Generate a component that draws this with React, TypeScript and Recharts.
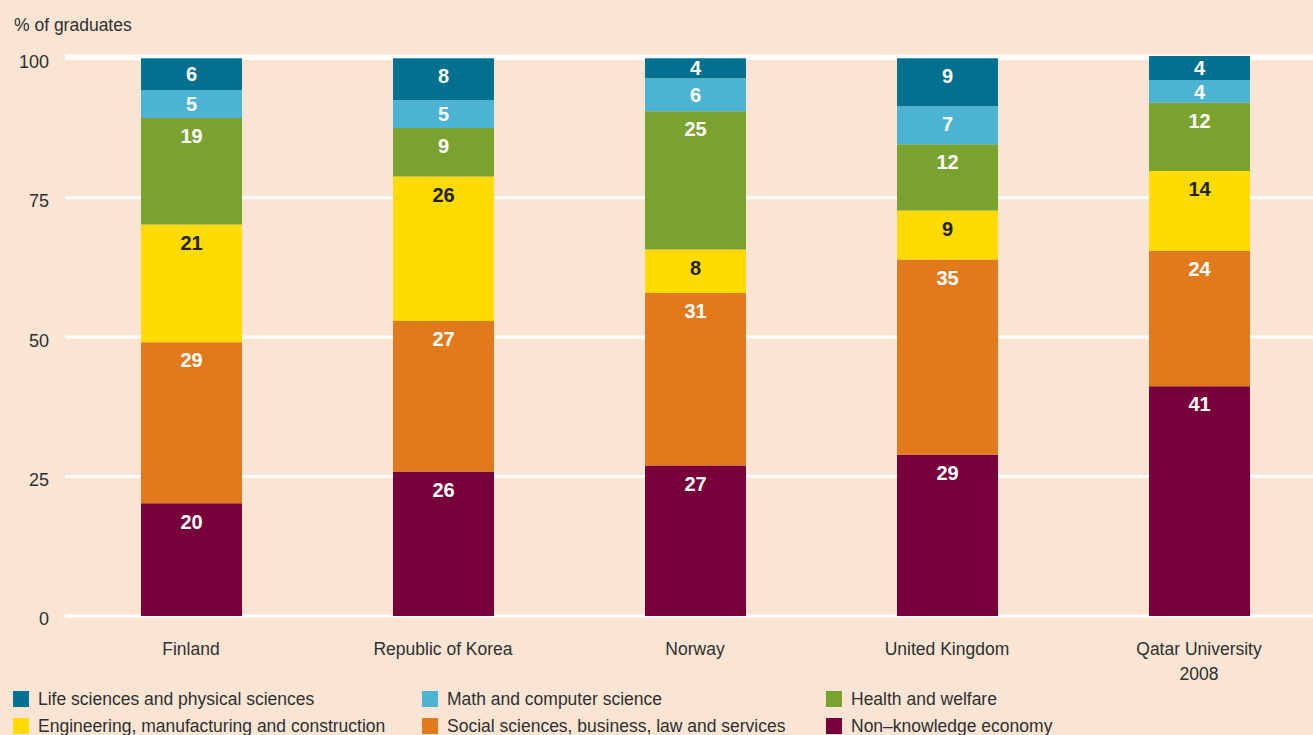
import { Bar, BarChart, CartesianGrid, LabelList, XAxis, YAxis } from "recharts";

const BG = "#fae5d4";
const TEXT = "#2f2f2f";
const FONT = "'Liberation Sans Narrow', 'Arial Narrow', 'Liberation Sans', sans-serif";

const categories = ["Finland", "Republic of Korea", "Norway", "United Kingdom", "Qatar University\n2008"];

// bottom to top
const nonKnowledge = [20.2, 25.9, 27.0, 28.9, 41.2];
const socialSciences = [28.9, 27.0, 30.9, 35.0, 24.3];
const engineering = [21.1, 25.9, 7.8, 8.8, 14.3];
const health = [19.1, 8.7, 24.8, 11.9, 12.2];
const mathComputer = [5.0, 5.0, 5.9, 6.8, 4.1];
const lifeSciences = [5.7, 7.5, 3.6, 8.6, 4.3];

const yTicks = [0, 25, 50, 75, 100];

const series = [
  { key: "nonKnowledge", name: "Non–knowledge economy", color: "#78003a", label: "#ffffff", values: nonKnowledge },
  { key: "social", name: "Social sciences, business, law and services", color: "#e07a1c", label: "#ffffff", values: socialSciences },
  { key: "engineering", name: "Engineering, manufacturing and construction", color: "#ffdb00", label: "#222222", values: engineering },
  { key: "health", name: "Health and welfare", color: "#7aa22f", label: "#ffffff", values: health },
  { key: "math", name: "Math and computer science", color: "#4db3d2", label: "#ffffff", values: mathComputer },
  { key: "life", name: "Life sciences and physical sciences", color: "#02718f", label: "#ffffff", values: lifeSciences },
];

// legend order as printed (row by row)
const legendOrder = ["life", "math", "health", "engineering", "social", "nonKnowledge"];

const data = categories.map((c, i) => {
  const row: Record<string, string | number> = { name: c };
  series.forEach((s) => (row[s.key] = s.values[i]));
  return row;
});

function segmentLabel(color: string) {
  return (props: any) => {
    const { x, y, width, height, value } = props;
    const cy = Number(y) + Math.min(Number(height) / 2, 18);
    return (
      <text
        x={Number(x) + Number(width) / 2}
        y={cy}
        dy="0.36em"
        textAnchor="middle"
        fill={color}
        fontFamily={FONT}
        fontWeight="bold"
        fontSize={20}
      >
        {Math.round(Number(value))}
      </text>
    );
  };
}

function CategoryTick({ x, y, payload }: any) {
  const lines = String(payload.value).split("\n");
  return (
    <text x={x} y={y} textAnchor="middle" fill={TEXT} fontFamily={FONT} fontSize={17.5}>
      {lines.map((l, i) => (
        <tspan key={i} x={x} dy={i === 0 ? 37 : 25}>
          {l}
        </tspan>
      ))}
    </text>
  );
}

function ValueTick({ x, y, payload }: any) {
  return (
    <text x={x} y={y + 3} dy="0.36em" textAnchor="end" fill={TEXT} fontFamily={FONT} fontSize={18}>
      {payload.value}
    </text>
  );
}

export default function App() {
  const byKey = Object.fromEntries(series.map((s) => [s.key, s]));
  return (
    <div style={{ position: "fixed", left: 0, top: 0, width: 1313, height: 735, overflow: "hidden", background: BG }}>
      <div style={{ position: "absolute", left: 14, top: 15, fontFamily: FONT, fontSize: 17.5, color: TEXT }}>
        % of graduates
      </div>
      <BarChart width={1325} height={700} data={data} margin={{ top: 56, right: 0, left: 0, bottom: 0 }}>
        <CartesianGrid vertical={false} stroke="#ffffff" strokeWidth={3} />
        <XAxis dataKey="name" axisLine={false} tickLine={false} tickSize={0} height={84} tick={<CategoryTick />} interval={0} />
        <YAxis
          domain={[0, 100]}
          ticks={yTicks}
          axisLine={false}
          tickLine={false}
          tickSize={0}
          tickMargin={16}
          width={65}
          tick={<ValueTick />}
        />
        {series.map((s) => (
          <Bar key={s.key} dataKey={s.key} stackId="a" fill={s.color} barSize={101} isAnimationActive={false}>
            <LabelList dataKey={s.key} content={segmentLabel(s.label)} />
          </Bar>
        ))}
      </BarChart>
      <div
        style={{
          position: "absolute",
          left: 13,
          top: 690,
          display: "grid",
          gridTemplateColumns: "409px 404px 400px",
          rowGap: 9,
          fontFamily: FONT,
          fontSize: 17.5,
          color: TEXT,
        }}
      >
        {legendOrder.map((k) => (
          <div key={k} style={{ display: "flex", alignItems: "center", height: 18, whiteSpace: "nowrap" }}>
            <span style={{ width: 16, height: 16, background: byKey[k].color, marginRight: 9, flex: "none" }} />
            {byKey[k].name}
          </div>
        ))}
      </div>
    </div>
  );
}
